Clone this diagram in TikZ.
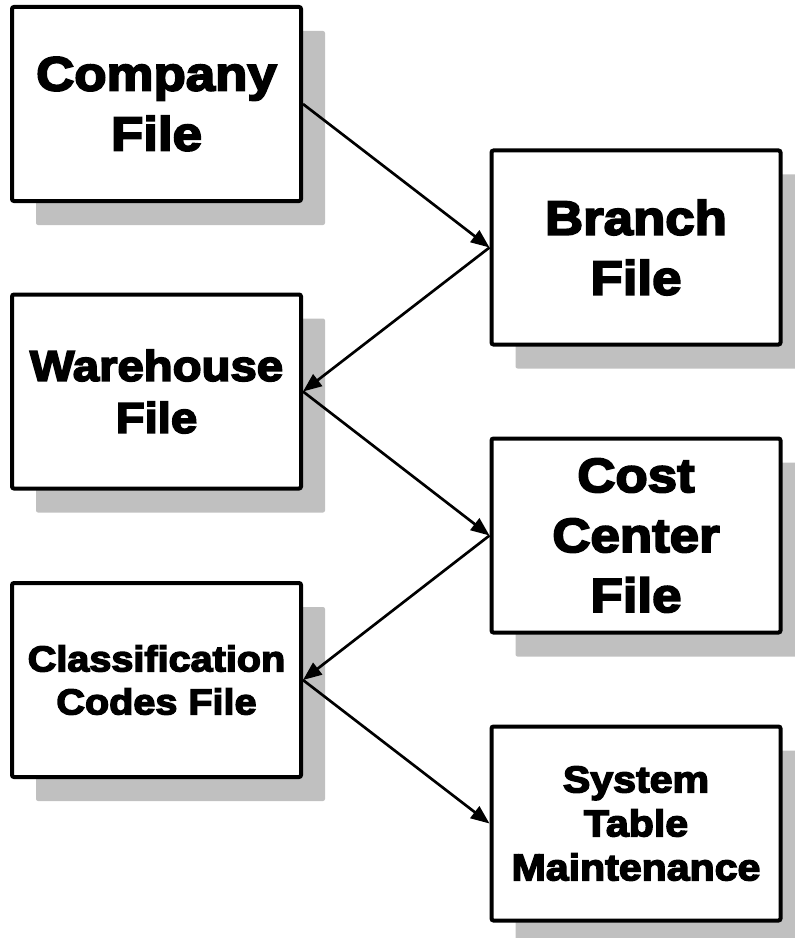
\documentclass[tikz,border=0pt]{standalone}
\usepackage{fontspec}
\newfontfamily\boxfont{Liberation Sans Bold}[FakeBold=4,FakeStretch=1.1]
\usetikzlibrary{arrows.meta,shadows}
\definecolor{shadowgray}{RGB}{192,192,192}

\begin{document}
\begin{tikzpicture}[x=0.75pt,y=-0.75pt,
  filebox/.style={draw=black, line width=3pt, fill=white, rounded corners=1.5pt,
    minimum width=216.75pt, minimum height=145.5pt, inner sep=0pt, align=center,
    drop shadow={shadow xshift=18pt, shadow yshift=-18pt, fill=shadowgray, opacity=1}},
  bigtext/.style={font=\boxfont\fontsize{36pt}{45pt}\selectfont},
  midtext/.style={font=\boxfont\fontsize{32.25pt}{39pt}\selectfont},
  smalltext/.style={font=\boxfont\fontsize{27pt}{32.25pt}\selectfont},
  systext/.style={font=\boxfont\fontsize{28pt}{33pt}\selectfont},
  link/.style={line width=2pt, -{Triangle[length=14pt,width=11pt]}}]

\useasboundingbox (0,0) rectangle (795,938);
\clip (0,0) rectangle (795,938);

% left column
\node[filebox, bigtext]   (company)  at (156.5,104)   {Company\\File};
\node[filebox, midtext]   (warehouse) at (156.5,391.5) {Warehouse\\File};
\node[filebox, smalltext] (classif)  at (156.5,680)   {Classification\\Codes File};

% right column
\node[filebox, bigtext]   (branch)   at (636,247.5)   {Branch\\File};
\node[filebox, bigtext]   (cost)     at (636,535.5)   {Cost\\Center\\File};
\node[filebox, systext]   (system)   at (636,823.5)   {System\\Table\\Maintenance};

% zig-zag flow between the files
\draw[link] (company.east)   -- (branch.west);
\draw[link] (branch.west)    -- (warehouse.east);
\draw[link] (warehouse.east) -- (cost.west);
\draw[link] (cost.west)      -- (classif.east);
\draw[link] (classif.east)   -- (system.west);
\end{tikzpicture}
\end{document}
